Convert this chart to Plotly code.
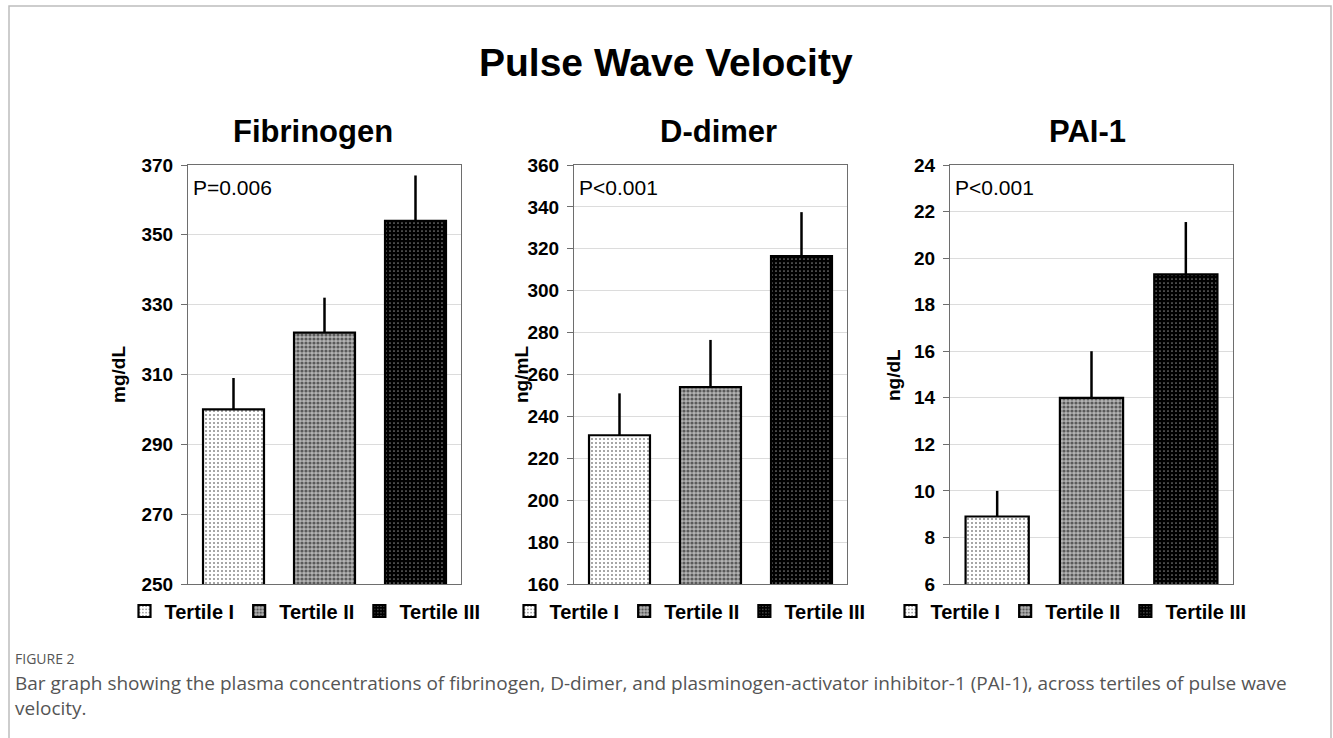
import plotly.graph_objects as go

# ---------------- data ----------------
categories = ["Tertile I", "Tertile II", "Tertile III"]

fibrinogen_mean = [300, 322, 354]
fibrinogen_err = [9, 10, 13]

ddimer_mean = [231, 254, 316.5]
ddimer_err = [20, 22.5, 21]

pai1_mean = [8.9, 14.0, 19.3]
pai1_err = [1.1, 2.0, 2.25]

panel_titles = ["Fibrinogen", "D-dimer", "PAI-1"]
unit_labels = ["mg/dL", "ng/mL", "ng/dL"]
p_values = ["P=0.006", "P<0.001", "P<0.001"]
y_ranges = [[250, 370], [160, 360], [6, 24]]
y_dticks = [20, 20, 2]

main_title = "Pulse Wave Velocity"
caption_head = "FIGURE 2"
caption_line1 = ("Bar graph showing the plasma concentrations of fibrinogen, D-dimer, and "
                 "plasminogen-activator inhibitor-1 (PAI-1), across tertiles of pulse wave")
caption_line2 = "velocity."

# ---------------- styling ----------------
W, H = 1333, 738
FONT = "Arial, 'Liberation Sans', sans-serif"
CAP_FONT = "'Open Sans', 'Noto Sans', sans-serif"


def px_x(x):
    return x / W


def px_y(y):
    return 1 - y / H


patterns = [
    dict(shape=".", bgcolor="white", fgcolor="#222222", size=4, solidity=0.22),
    dict(shape=".", bgcolor="#b4b4b4", fgcolor="black", size=4, solidity=0.5),
    dict(shape=".", bgcolor="black", fgcolor="white", size=4, solidity=0.15),
]

# plot-area pixel positions (left, right)
panels_px = [(188, 461), (574, 847), (950, 1233)]
plot_top, plot_bottom = 165, 584
legend_centers = [305, 690, 1071]
title_centers = [313, 718, 1087]
unit_x = [118, 521, 893]

means = [fibrinogen_mean, ddimer_mean, pai1_mean]
errs = [fibrinogen_err, ddimer_err, pai1_err]

fig = go.Figure()

for p in range(3):
    xa = "x" if p == 0 else f"x{p+1}"
    ya = "y" if p == 0 else f"y{p+1}"
    lg = "legend" if p == 0 else f"legend{p+1}"
    for i, cat in enumerate(categories):
        fig.add_trace(go.Bar(
            x=[cat], y=[means[p][i]],
            name=cat,
            xaxis=xa, yaxis=ya,
            legend=lg,
            marker=dict(color="white", pattern=patterns[i],
                        line=dict(color="black", width=2.2)),
            error_y=dict(type="data", symmetric=False, array=[errs[p][i]],
                         arrayminus=[0], color="black", thickness=2.5, width=0),
            showlegend=True,
        ))

layout = dict(
    width=W, height=H,
    margin=dict(l=0, r=0, t=0, b=0, autoexpand=False),
    paper_bgcolor="white", plot_bgcolor="white",
    barmode="overlay", bargap=0.33,
    font=dict(family=FONT, color="black"),
    showlegend=True,
)

y0d, y1d = px_y(plot_bottom), px_y(plot_top)
for p in range(3):
    xk = "xaxis" if p == 0 else f"xaxis{p+1}"
    yk = "yaxis" if p == 0 else f"yaxis{p+1}"
    xa = "x" if p == 0 else f"x{p+1}"
    ya = "y" if p == 0 else f"y{p+1}"
    l, r = panels_px[p]
    layout[xk] = dict(domain=[px_x(l), px_x(r)], anchor=ya, type="category",
                      categoryorder="array", categoryarray=categories,
                      showticklabels=False, ticks="", showgrid=False,
                      showline=True, linecolor="#6e6e6e", linewidth=1.2, mirror=True,
                      automargin=False, fixedrange=True)
    layout[yk] = dict(domain=[y0d, y1d], anchor=xa, range=y_ranges[p], dtick=y_dticks[p],
                      tick0=y_ranges[p][0],
                      showgrid=True, gridcolor="#dcdcdc", gridwidth=1,
                      showline=True, linecolor="#6e6e6e", linewidth=1.2, mirror=True,
                      ticks="outside", ticklen=6, tickcolor="#6e6e6e",
                      ticklabelstandoff=4, automargin=False,
                      tickfont=dict(family=FONT, size=19, color="black", weight="bold"),
                      zeroline=False, fixedrange=True)
    lk = "legend" if p == 0 else f"legend{p+1}"
    layout[lk] = dict(orientation="h", x=px_x(legend_centers[p]), xanchor="center",
                      y=px_y(611), yanchor="middle", itemwidth=30,
                      font=dict(family=FONT, size=20, color="black", weight="bold"),
                      bgcolor="rgba(0,0,0,0)", itemclick=False, itemdoubleclick=False,
                      tracegroupgap=0)

fig.update_layout(**layout)

annotations = []
annotations.append(dict(text=f"<b>{main_title}</b>", x=px_x(666), y=px_y(62), xref="paper", yref="paper",
                        xanchor="center", yanchor="middle", showarrow=False,
                        font=dict(family=FONT, size=39, color="black")))
for p in range(3):
    l, r = panels_px[p]
    annotations.append(dict(text=f"<b>{panel_titles[p]}</b>", x=px_x(title_centers[p]), y=px_y(131),
                            xref="paper", yref="paper", xanchor="center", yanchor="middle",
                            showarrow=False, font=dict(family=FONT, size=31, color="black")))
    annotations.append(dict(text=f"<b>{unit_labels[p]}</b>", x=px_x(unit_x[p]), y=px_y(375),
                            xref="paper", yref="paper", xanchor="center", yanchor="middle",
                            textangle=-90, showarrow=False,
                            font=dict(family=FONT, size=19, color="black")))
    annotations.append(dict(text=p_values[p], x=px_x(l + 3), y=px_y(187),
                            xref="paper", yref="paper", xanchor="left", yanchor="middle",
                            showarrow=False, font=dict(family=FONT, size=21, color="black")))

annotations.append(dict(text=caption_head, x=px_x(13), y=px_y(658), xref="paper", yref="paper",
                        xanchor="left", yanchor="middle", showarrow=False,
                        font=dict(family=CAP_FONT, size=14, color="#555555")))
annotations.append(dict(text=caption_line1 + "<br>" + caption_line2, x=px_x(13), y=px_y(695),
                        xref="paper", yref="paper", align="left",
                        xanchor="left", yanchor="middle", showarrow=False,
                        font=dict(family=CAP_FONT, size=19, color="#555555")))

fig.update_layout(annotations=annotations)

# outer frame of the figure panel
fig.add_shape(type="rect", xref="paper", yref="paper",
              x0=px_x(9), x1=px_x(1331), y0=-0.05, y1=px_y(6),
              line=dict(color="#bdbdbd", width=1.5), fillcolor="rgba(0,0,0,0)", layer="below")

fig.write_html("out.html", config={"displayModeBar": False},
               post_script="document.body.style.margin='0';")
